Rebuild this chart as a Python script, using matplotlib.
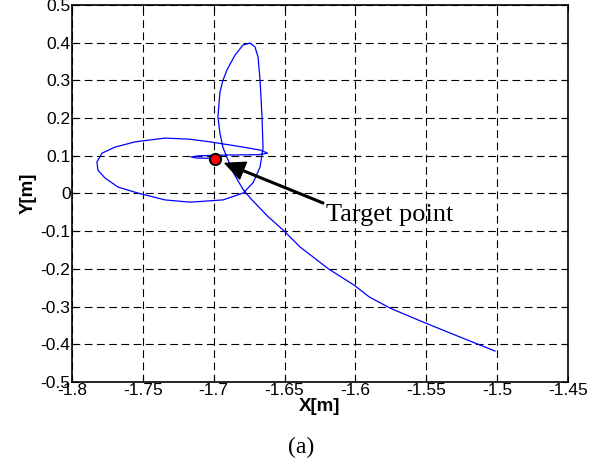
import numpy as np
import matplotlib.pyplot as plt

# trajectory (start at lower right, end at target)
x_traj = [-1.5015, -1.526, -1.551, -1.575, -1.590, -1.601, -1.619, -1.639, -1.651, -1.662,
          -1.673, -1.679, -1.686, -1.690, -1.6934, -1.6956, -1.697, -1.6956, -1.6934, -1.6906,
          -1.685, -1.6793, -1.6744, -1.6709, -1.6687, -1.6673, -1.6659, -1.6652, -1.6673, -1.6723,
          -1.6793, -1.6934, -1.7167, -1.7344, -1.7534, -1.7675, -1.7767, -1.7817, -1.7824, -1.7788,
          -1.7697, -1.7555, -1.7344, -1.7170, -1.7026, -1.679, -1.667, -1.662, -1.668, -1.690,
          -1.710, -1.716, -1.712, -1.700, -1.699]
y_traj = [-0.418, -0.381, -0.343, -0.305, -0.275, -0.243, -0.200, -0.142, -0.097, -0.060,
          -0.017, 0.009, 0.054, 0.090, 0.121, 0.160, 0.203, 0.269, 0.301, 0.328,
          0.367, 0.394, 0.399, 0.389, 0.362, 0.301, 0.203, 0.121, 0.070, 0.028,
          0.001, -0.017, -0.023, -0.017, 0.001, 0.017, 0.041, 0.062, 0.084, 0.107,
          0.123, 0.137, 0.147, 0.144, 0.137, 0.123, 0.115, 0.107, 0.103, 0.102,
          0.100, 0.097, 0.094, 0.093, 0.0915]

target = (-1.699, 0.0915)
xticks = [-1.8, -1.75, -1.7, -1.65, -1.6, -1.55, -1.5, -1.45]
yticks = [-0.5, -0.4, -0.3, -0.2, -0.1, 0, 0.1, 0.2, 0.3, 0.4, 0.5]

fig = plt.figure(figsize=(6.02, 4.72), dpi=100)
ax = fig.add_axes([0.1196, 0.1907, 0.8239, 0.7987])

ax.plot(x_traj, y_traj, color='#0000ff', lw=0.9)
ax.plot(*target, 'o', color='red', mec='black', mew=1.5, ms=8)

ax.annotate('Target point', xy=(-1.692, 0.080), xytext=(-1.6205, -0.058),
            fontsize=19, family='Liberation Serif', va='center', ha='left',
            arrowprops=dict(facecolor='black', edgecolor='black', width=1.2,
                            headwidth=13, headlength=14, shrink=0))

ax.set_xlim(-1.8, -1.45)
ax.set_ylim(-0.5, 0.5)
ax.set_xticks(xticks)
ax.set_yticks(yticks)
ax.set_xticklabels(['%g' % v for v in xticks], family='Liberation Sans', fontsize=12.5)
ax.set_yticklabels(['%g' % v for v in yticks], family='Liberation Sans', fontsize=12.5)
ax.tick_params(direction='in', top=True, right=True, length=4, pad=1)
ax.grid(True, color='black', linestyle=(0, (7, 4)), lw=0.8)
for s in ax.spines.values():
    s.set_linewidth(1.2)

ax.set_xlabel('X[m]', family='Liberation Sans', fontsize=13.5, fontweight='bold', labelpad=0)
ax.set_ylabel('Y[m]', family='Liberation Sans', fontsize=13.5, fontweight='bold', labelpad=3)

fig.text(0.5, 0.053, '(a)', family='Liberation Serif', fontsize=17, ha='center', va='center')

fig.savefig('out.png', dpi=100)
